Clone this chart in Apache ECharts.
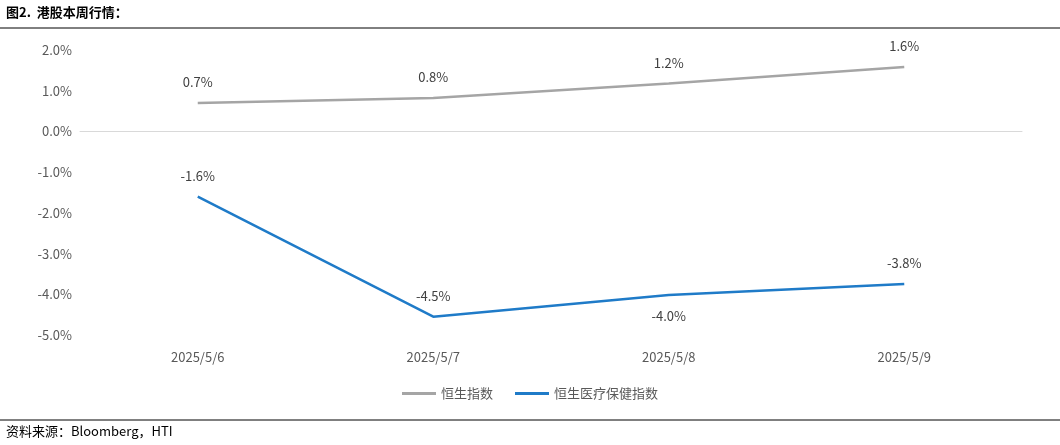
<!DOCTYPE html>
<html><head><meta charset="utf-8">
<script src="https://cdn.jsdelivr.net/npm/echarts@6/dist/echarts.min.js"></script>
<style>body{margin:0;background:#fff}#c{width:1060px;height:445px}</style>
</head><body><div id="c"></div>
<script>
const categories = ['2025/5/6','2025/5/7','2025/5/8','2025/5/9'];
const hsi = [0.7, 0.82, 1.18, 1.58];
const health = [-1.6, -4.55, -4.02, -3.75];
const labelPos = ['top','top','bottom','top'];
const yTicks = [2,1,0,-1,-2,-3,-4,-5];
const chart = echarts.init(document.getElementById('c'));
const font = '"Noto Sans CJK SC", "Liberation Sans", sans-serif';
function mk(name, data, color, pos) {
  return {name, type:'line', data: data.map((v,i)=>({value:v, label:{show:true, position:pos?pos[i]:'top'}})),
    symbol:'circle', symbolSize:0.1, showSymbol:true, lineStyle:{color, width:2.5}, itemStyle:{color},
    label:{show:true, distance:14, color:'#404040', fontSize:13, fontFamily:font,
      formatter:p=>p.value.toFixed(1)+'%'}};
}
chart.setOption({
  animation:false,
  graphic:[
    {type:'text', left:6, top:6, style:{text:'图2.  港股本周行情：', font:'bold 13px '+font, fill:'#000'}},
    {type:'line', shape:{x1:0,y1:28,x2:1060,y2:28}, style:{stroke:'#000',lineWidth:1}},
    {type:'line', shape:{x1:0,y1:420,x2:1060,y2:420}, style:{stroke:'#000',lineWidth:1}},
    {type:'text', left:6, top:425, style:{text:'资料来源：Bloomberg，HTI', font:'13px '+font, fill:'#000'}}
  ],
  grid:{left:80, right:38, top:50, bottom:110},
  legend:{bottom:40, left:'center', itemWidth:34, itemHeight:3, itemGap:22, icon:'rect',
    textStyle:{color:'#595959', fontSize:13, fontFamily:font}},
  xAxis:[{type:'category', data:categories, boundaryGap:true,
    axisLine:{onZero:true, lineStyle:{color:'#d9d9d9'}}, axisTick:{show:false},
    axisLabel:{show:false}},
    {type:'category', data:categories, position:'bottom', axisLine:{show:false}, axisTick:{show:false},
    axisLabel:{color:'#595959', fontSize:13, fontFamily:font, margin:16}}],
  yAxis:{type:'value', min:-5, max:2, interval:1, splitLine:{show:false},
    axisLine:{show:false}, axisTick:{show:false},
    axisLabel:{color:'#595959', fontSize:13, fontFamily:font, formatter:v=>v.toFixed(1)+'%'}},
  series:[mk('恒生指数', hsi, '#a5a5a5'), mk('恒生医疗保健指数', health, '#1f7bc8', labelPos)]
});
</script></body></html>
